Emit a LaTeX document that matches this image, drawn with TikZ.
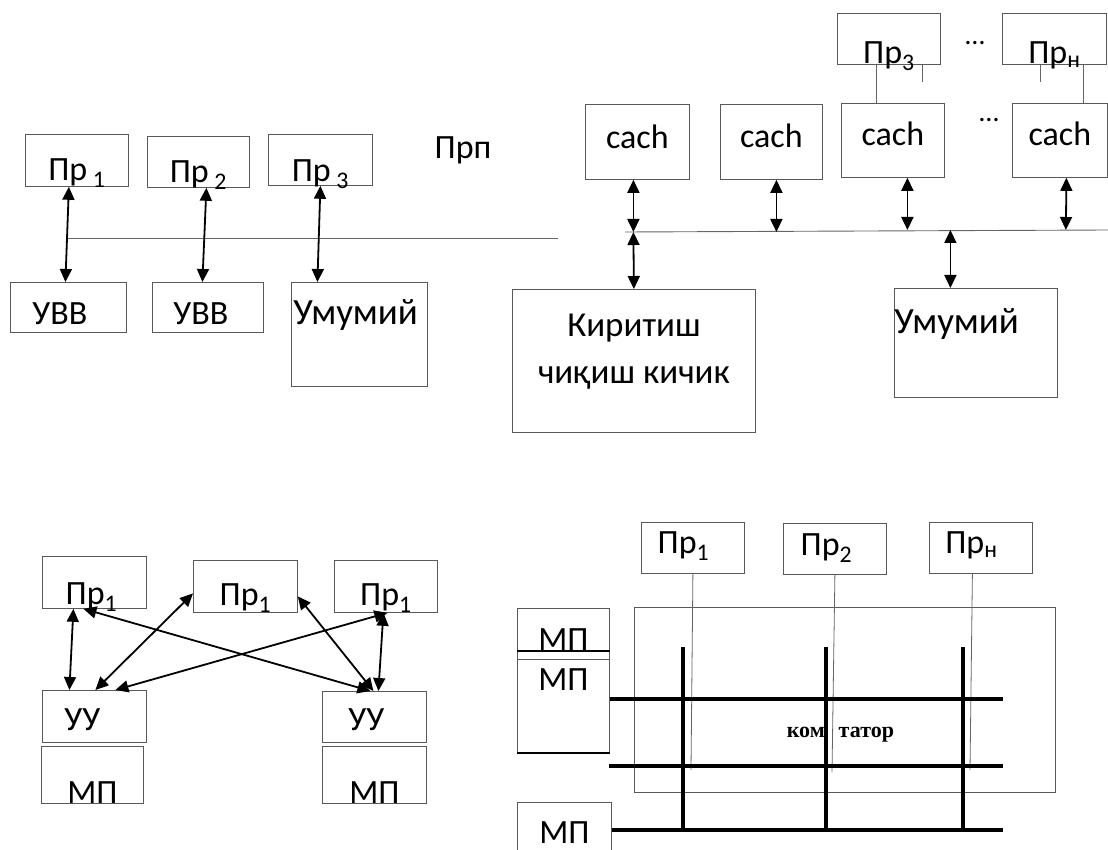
\documentclass[tikz,border=0pt]{standalone}
\usepackage{fontspec}
\setmainfont{Carlito}
\newfontfamily\serifbf{Liberation Serif}
\usepackage{xcolor}
\usepackage{tikz}
\usetikzlibrary{positioning,arrows.meta}

\begin{document}
\begin{tikzpicture}[x=1pt,y=-1pt,
block/.style={draw=black!65,line width=0.8pt,inner sep=0pt,anchor=north west,
font=\fontsize{34}{40}\selectfont},
link/.style={{Triangle[length=13pt,width=12pt]}-{Triangle[length=13pt,width=12pt]},
line width=1.8pt},
bus/.style={draw=black!60,line width=0.9pt},
wire/.style={draw=black!60,line width=0.8pt},
bar/.style={line width=4pt}]
    \useasboundingbox (0,0) rectangle (1108,850);
    \clip (0,0) rectangle (1108,850);
    \node[block,minimum width=103,text height=46,text depth=6] (Node p1) at (25,134) {Пр\,\textsubscript{1}};
    \node[block,minimum width=102,text height=46,text depth=5] (Node p2) at (147,136) {Пр\,\textsubscript{2}};
    \node[block,minimum width=104,text height=47,text depth=4] (Node p3) at (268,134) {Пр\,\textsubscript{3}};
    \node[font=\fontsize{34}{40}\selectfont] (Node prp) at (463,150) {Прп};
    \node[block,text width=116,align=left,text height=42,text depth=8] (Node uvv1) at (10,282) {\hspace*{22pt}УВВ};
    \node[block,text width=111,align=left,text height=42,text depth=8] (Node uvv2) at (152,282) {\hspace*{21pt}УВВ};
    \node[block,text width=136,align=left,text height=42,text depth=62,
    font=\fontsize{37}{42}\selectfont] (Node mem1) at (291,282) {\hspace*{2pt}Умумий};
    \coordinate (bus left) at (67,238);
    \coordinate (bus right) at (558,238);
    \draw[bus] (bus left) -- (bus right);
    \draw[link] ([xshift=-8pt]Node p1.south) -- ([xshift=-3pt]Node uvv1.north);
    \draw[link] ([xshift=8pt]Node p2.south) -- ([xshift=-5.5pt]Node uvv2.north);
    \draw[link] (Node p3.south) -- ([xshift=-42pt]Node mem1.north);

    \node[block,minimum width=104,text height=44,text depth=31] (cache 1) at (585,104) {cach};
    \node[block,minimum width=102,text height=43,text depth=32] (cache 2) at (720,104) {cach};
    \node[block,minimum width=103,text height=42,text depth=32] (cache 3) at (841,103) {cach};
    \node[block,minimum width=95,text height=42,text depth=32] (cache n) at (1012,103) {cach};
    \node[block,minimum width=103,text height=50,text depth=1] (Node pt3) at (837,13) {Пр\textsubscript{3}};
    \node[block,minimum width=104,text height=50,text depth=1] (Node ptn) at (1002,13) {Пр\textsubscript{н}};
    \node[font=\fontsize{28}{30}\selectfont] (dots up) at (975,43) {…};
    \node[font=\fontsize{28}{30}\selectfont] (dots down) at (989,120) {…};
    \draw[wire] ([xshift=-12.5pt]Node pt3.south) -- ([xshift=-16.5pt]cache 3.north);
    \draw[wire] ([xshift=33.5pt]Node pt3.south) -- ++(0,17);
    \draw[wire] ([xshift=-14pt]Node ptn.south) -- ++(0,17);
    \draw[wire] ([xshift=29pt]Node ptn.south) -- ([xshift=23.5pt]cache n.north);
    \coordinate (sysbus left) at (625,232);
    \coordinate (sysbus right) at (1108,230);
    \draw[bus] (sysbus left) -- (sysbus right);
    \node[block,minimum width=243,align=center,text height=94,text depth=49,
    font=\fontsize{35}{47}\selectfont] (Node io) at (512,289) {Киритиш\\чиқиш кичик};
    \node[block,text width=163,align=left,text height=45,text depth=64,
    font=\fontsize{37}{42}\selectfont] (Node mem2) at (894,288) {Умумий};
    \draw[link] ([xshift=-4pt]cache 1.south) -- ([xshift=-4pt]cache 1.south |- sysbus left);
    \draw[link] ([xshift=-4pt]cache 1.south |- sysbus left) -- (Node io.north);
    \draw[link] ([xshift=5pt]cache 2.south) -- ([xshift=5pt]cache 2.south |- sysbus left);
    \draw[link] ([xshift=14.5pt]cache 3.south) -- ([xshift=14.5pt]cache 3.south |- sysbus right);
    \draw[link] ([xshift=6.5pt]cache n.south) -- ([xshift=6pt]cache n.south |- sysbus right);
    \draw[link] ([xshift=-25.5pt]Node mem2.north |- sysbus right) -- ([xshift=-25.5pt]Node mem2.north);

    \node[block,minimum width=104,text height=48,text depth=4] (Node b1) at (42,556) {\hspace*{-6pt}Пр\textsubscript{1}};
    \node[block,minimum width=104,text height=45,text depth=7] (Node b2) at (193,560) {Пр\textsubscript{1}};
    \node[block,minimum width=103,text height=45,text depth=7] (Node b3) at (334,560) {Пр\textsubscript{1}};
    \node[block,text width=104,align=left,text height=40,text depth=12] (Node cu1) at (42,690) {\hspace*{22pt}УУ};
    \node[block,text width=104,align=left,text height=39,text depth=12] (Node cu2) at (322,691) {\hspace*{26pt}УУ};
    \node[block,minimum width=102,text height=57,text depth=-6] (Node lm1) at (41,746) {МП};
    \node[block,minimum width=104,text height=57,text depth=-6] (Node lm2) at (322,746) {МП};
    \draw[link] ([xshift=-21pt]Node b1.south) -- ([xshift=-25pt]Node cu1.north);
    \draw[link] ([xshift=1pt]Node cu1.north) -- ([yshift=-7pt]Node b2.west);
    \draw[link] ([xshift=21pt]Node cu1.north) -- ([xshift=1.5pt]Node b3.south);
    \draw[link] ([xshift=-11pt]Node b1.south) -- ([xshift=-4pt]Node cu2.north);
    \draw[link] ([yshift=-10pt]Node b2.east) -- ([xshift=-1pt]Node cu2.north);
    \draw[link] ([xshift=-2.5pt]Node b3.south) -- ([xshift=4pt]Node cu2.north);

    \node[block,minimum width=103,text height=31,text depth=20] (Node q1) at (641,522) {\hspace*{-19pt}Пр\textsubscript{1}};
    \node[block,minimum width=103,text height=32,text depth=19] (Node q2) at (783,523) {\hspace*{-17pt}Пр\textsubscript{2}};
    \node[block,minimum width=103,text height=31,text depth=20] (Node qn) at (929,522) {\hspace*{-19pt}Пр\textsubscript{н}};
    \node[block,minimum width=421,text height=130,text depth=55,
    font=\fontsize{22}{26}\selectfont\serifbf\bfseries] (switch) at (634,607) {\hspace*{-9pt}ком\hspace{14pt}татор};
    \node[block,minimum width=92,text height=42,text depth=9] (Node mA) at (517,608) {МП};
    \node[block,minimum width=92,text height=31,text depth=62] (Node mB) at (517,659) {МП};
    \node[block,minimum width=94,text height=41,text depth=19] (Node mC) at (517,802) {МП};
    \draw[line width=2.5pt] ([yshift=9pt]Node mA.south west) -- ([yshift=9pt]Node mA.south east);
    \draw[line width=1.8pt] (Node mB.south west) -- (Node mB.south east);
    \coordinate (w1) at (691,770);
    \coordinate (w2) at (832,772);
    \coordinate (wn) at (970,770);
    \draw[wire] (Node q1.south) -- (w1);
    \draw[wire] (Node q2.south) -- (w2);
    \draw[wire] ([xshift=-8.5pt]Node qn.south) -- (wn);
    \coordinate (row1) at (1003,699);
    \coordinate (row2 start) at (609,766);
    \coordinate (row2) at (1003,766);
    \coordinate (row3) at (1003,830);
    \coordinate (col1) at (683,647);
    \coordinate (col2) at (826,647);
    \coordinate (col3) at (963,647);
    \draw[bar] (Node mB.north east |- row1) -- (row1);
    \draw[bar] (row2 start) -- (row2);
    \draw[bar] (Node mC.north east |- row3) -- (row3);
    \draw[bar] (col1) -- (col1 |- row3);
    \draw[bar] (col2) -- (col2 |- row3);
    \draw[bar] (col3) -- (col3 |- row3);
\end{tikzpicture}
\end{document}
